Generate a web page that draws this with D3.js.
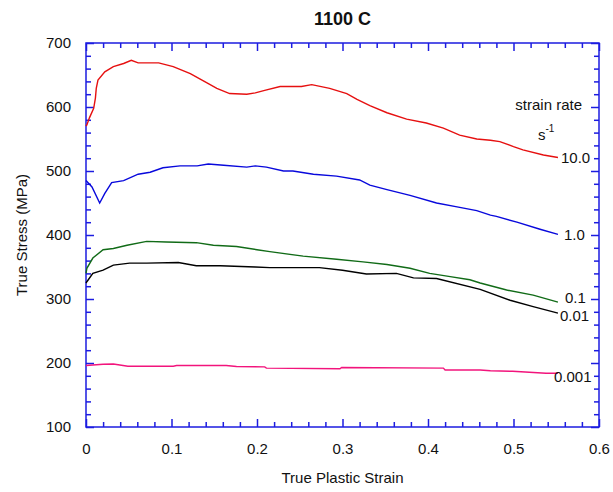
<!DOCTYPE html>
<html>
<head>
<meta charset="utf-8">
<script src="https://cdn.jsdelivr.net/npm/d3@7"></script>
<style>
  body { margin: 0; background: #fff; }
  text { font-family: "Liberation Sans", Arial, sans-serif; fill: #111; }
</style>
</head>
<body>
<script>
// flow curves at 1100 C
var strain10 = [0, 0.001, 0.004, 0.009, 0.011, 0.012, 0.014, 0.022, 0.032, 0.044, 0.053, 0.061, 0.085, 0.102, 0.122, 0.141, 0.153, 0.168, 0.188, 0.198, 0.209, 0.227, 0.252, 0.264, 0.285, 0.305, 0.317, 0.332, 0.352, 0.375, 0.398, 0.418, 0.437, 0.457, 0.473, 0.484, 0.500, 0.511, 0.535, 0.552];
var stress10 = [570, 572, 583, 598, 614, 629, 642, 655, 663, 668, 673, 669, 669, 663, 652, 638, 629, 621, 620, 622, 626, 632, 632, 635, 629, 621, 612, 602, 591, 581, 575, 567, 556, 550, 548, 546, 538, 533, 525, 521];

var strain1 = [0, 0.007, 0.016, 0.022, 0.030, 0.044, 0.061, 0.075, 0.090, 0.110, 0.130, 0.143, 0.161, 0.188, 0.198, 0.211, 0.231, 0.242, 0.266, 0.293, 0.320, 0.332, 0.352, 0.379, 0.410, 0.434, 0.457, 0.473, 0.480, 0.504, 0.531, 0.552];
var stress1 = [485, 475, 450, 465, 482, 485, 495, 498, 505, 508, 508, 511, 509, 506, 508, 506, 500, 500, 495, 492, 486, 478, 471, 462, 450, 444, 438, 431, 429, 420, 409, 401];

var strain01 = [0, 0.001, 0.008, 0.020, 0.032, 0.048, 0.071, 0.094, 0.129, 0.149, 0.176, 0.200, 0.215, 0.254, 0.293, 0.324, 0.352, 0.379, 0.402, 0.426, 0.449, 0.461, 0.492, 0.523, 0.552];
var stress01 = [340, 348, 364, 377, 379, 384, 390, 389, 388, 384, 382, 377, 374, 367, 362, 358, 354, 348, 340, 335, 330, 325, 314, 306, 295];

var strain001 = [0, 0.001, 0.008, 0.020, 0.032, 0.051, 0.071, 0.108, 0.129, 0.157, 0.198, 0.215, 0.273, 0.300, 0.328, 0.363, 0.383, 0.410, 0.461, 0.496, 0.523, 0.552];
var stress001 = [325, 327, 340, 345, 353, 356, 356, 357, 352, 352, 350, 349, 349, 345, 339, 340, 333, 332, 315, 298, 288, 278];

var strain0001 = [0, 0.020, 0.032, 0.049, 0.102, 0.106, 0.164, 0.176, 0.209, 0.211, 0.297, 0.299, 0.418, 0.420, 0.461, 0.473, 0.499, 0.538, 0.552];
var stress0001 = [196, 198, 198.5, 195, 195, 196, 196, 194.5, 194, 192, 191, 193, 192, 189, 189, 188, 187, 184, 184];

var rateLabels = ["10.0", "1.0", "0.1", "0.01", "0.001"];
var xTicks = [0, 0.1, 0.2, 0.3, 0.4, 0.5, 0.6];
var yTicks = [100, 200, 300, 400, 500, 600, 700];

var colors = ["#e61010", "#0808dc", "#116b17", "#000000", "#f2147c"];
var axisColor = "#1c1ce0";
// small pixel nudges so the 0.1 / 0.01 labels don't collide
var labelShift = [[3, 0], [6, 0], [7, -5], [2, 3], [-4, 3]];

var series = [
  [strain10, stress10], [strain1, stress1], [strain01, stress01],
  [strain001, stress001], [strain0001, stress0001]
].map(function(s, i) {
  return {
    label: rateLabels[i],
    color: colors[i],
    shift: labelShift[i],
    points: s[0].map(function(x, j) { return [x, s[1][j]]; })
  };
});

var margin = {top: 43, right: 14, bottom: 65, left: 86};
var W = 613, H = 492;
var w = W - margin.left - margin.right;
var h = H - margin.top - margin.bottom;

var svg = d3.select("body").append("svg")
            .attr("width", W)
            .attr("height", H);

var g = svg.append("g")
           .attr("transform", "translate(" + margin.left + "," + margin.top + ")");

var x = d3.scaleLinear().domain([0, 0.6]).range([0, w]);
var y = d3.scaleLinear().domain([100, 700]).range([h, 0]);

var xMinor = d3.range(0, 0.6001, 0.02).filter(function(v) { return Math.abs(v * 10 - Math.round(v * 10)) > 1e-6; });
var yMinor = d3.range(100, 701, 20).filter(function(v) { return v % 100 !== 0; });

// helper: draw ticks on one side, pointing inward
function ticks(axisFn, scale, values, size, withLabels, transform) {
  var a = axisFn(scale).tickValues(values).tickSizeInner(-size).tickSizeOuter(0);
  if (withLabels) {
    a.tickPadding(withLabels).tickFormat(function(d) { return d3.format("")(d); });
  } else {
    a.tickFormat("");
  }
  var ax = g.append("g").attr("transform", transform || null).call(a);
  ax.select(".domain").remove();
  ax.selectAll("line").attr("stroke", axisColor).attr("stroke-width", 1.5);
  ax.selectAll("text")
    .style("font-family", '"Liberation Sans", Arial, sans-serif')
    .style("font-size", "15px")
    .attr("fill", "#111");
  return ax;
}

ticks(d3.axisBottom, x, xTicks, 8, 16, "translate(0," + h + ")");
ticks(d3.axisBottom, x, xMinor, 5, 0, "translate(0," + h + ")");
ticks(d3.axisTop, x, xTicks, 8, 0);
ticks(d3.axisTop, x, xMinor, 5, 0);
ticks(d3.axisLeft, y, yTicks, 8, 15);
ticks(d3.axisLeft, y, yMinor, 5, 0);
ticks(d3.axisRight, y, yTicks, 8, 0, "translate(" + w + ",0)");
ticks(d3.axisRight, y, yMinor, 5, 0, "translate(" + w + ",0)");

// frame
g.append("rect")
 .attr("width", w)
 .attr("height", h)
 .attr("fill", "none")
 .attr("stroke", axisColor)
 .attr("stroke-width", 1.5);

var line = d3.line()
             .x(function(d) { return x(d[0]); })
             .y(function(d) { return y(d[1]); });

g.selectAll(".curve")
 .data(series)
 .enter().append("path")
 .attr("class", "curve")
 .attr("d", function(d) { return line(d.points); })
 .attr("fill", "none")
 .attr("stroke", function(d) { return d.color; })
 .attr("stroke-width", 1.4);

// strain rate labels at the end of each curve
g.selectAll(".rate")
 .data(series)
 .enter().append("text")
 .attr("class", "rate")
 .attr("x", function(d) { return x(d.points[d.points.length - 1][0]) + d.shift[0]; })
 .attr("y", function(d) { return y(d.points[d.points.length - 1][1]) + d.shift[1]; })
 .attr("dy", "0.36em")
 .style("font-size", "15px")
 .text(function(d) { return d.label; });

g.append("text")
 .attr("x", w - 17)
 .attr("y", 110 - margin.top)
 .attr("text-anchor", "end")
 .style("font-size", "15px")
 .text("strain rate");

var unit = g.append("text")
            .attr("x", 538 - margin.left)
            .attr("y", 140 - margin.top)
            .style("font-size", "15px");
unit.append("tspan").text("s");
unit.append("tspan").attr("dy", "-8").style("font-size", "10px").text("-1");

// titles
svg.append("text")
   .attr("x", margin.left + w / 2)
   .attr("y", 25)
   .attr("text-anchor", "middle")
   .style("font-size", "18px")
   .style("font-weight", "bold")
   .text("1100 C");

svg.append("text")
   .attr("x", margin.left + w / 2)
   .attr("y", 483)
   .attr("text-anchor", "middle")
   .style("font-size", "15px")
   .text("True Plastic Strain");

svg.append("text")
   .attr("transform", "translate(27," + (margin.top + h / 2) + ")rotate(-90)")
   .attr("text-anchor", "middle")
   .style("font-size", "15px")
   .text("True Stress (MPa)");
</script>
</body>
</html>
